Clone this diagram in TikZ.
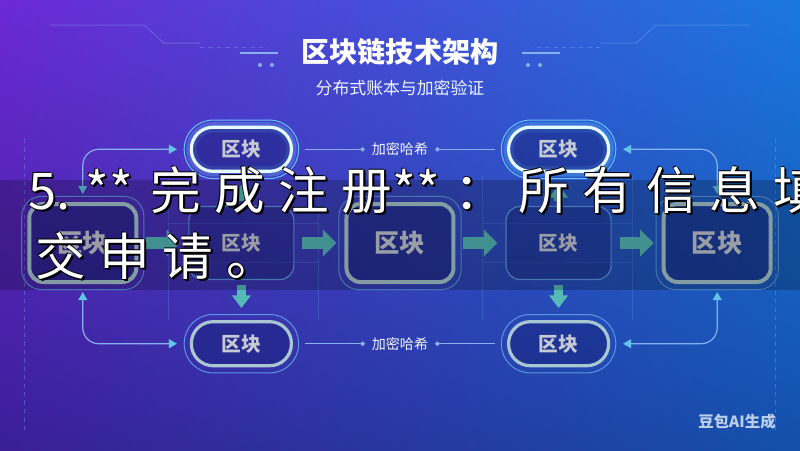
\documentclass[tikz,border=0pt]{standalone}
\usepackage{fontspec}
\usepackage{xcolor}
\usepackage{tikz}
\usetikzlibrary{arrows.meta,positioning,fit,calc,shadings}
\newfontfamily\cjk{Noto Sans CJK SC}
\newfontfamily\cjkwide[LetterSpace=26]{Noto Sans CJK SC}
\definecolor{cBgTL}{HTML}{6C29D4}
\definecolor{cBgTR}{HTML}{1A78DF}
\definecolor{cBgBL}{HTML}{3B1E98}
\definecolor{cBgBR}{HTML}{1350AB}
\definecolor{cNavy}{HTML}{18227A}
\definecolor{cGlow}{HTML}{E4FAFF}
\definecolor{cHalo}{HTML}{62C4FF}
\definecolor{cRing}{HTML}{5A96E2}
\definecolor{cEdge}{HTML}{A8C7D0}
\definecolor{cTeal}{HTML}{55B9B8}
\definecolor{cLink}{HTML}{86B0EE}
\definecolor{cTip}{HTML}{5FC6E6}
\definecolor{cText}{HTML}{C6CAD4}
\tikzset{
  blk/.style   = {rectangle, rounded corners=3.5mm, fill=cNavy, text=cText, text opacity=1, align=center},
  hblk/.style  = {blk, minimum width=26.75mm, minimum height=19.5mm, draw=cEdge, line width=1mm,
                  fill opacity=0.5, text opacity=1, font=\cjk\bfseries\fontsize{18}{18}\selectfont},
  pblk/.style  = {blk, minimum width=26.25mm, minimum height=18.25mm, draw=cRing, line width=0.3mm,
                  fill opacity=0.35, text opacity=1, font=\cjk\bfseries\fontsize{14}{14}\selectfont},
  pill/.style  = {rectangle, rounded corners=5.4mm, minimum width=25mm, minimum height=11mm, draw=#1,
                  line width=0.8mm, fill=cNavy, fill opacity=0.5, text=cText, text opacity=1,
                  font=\cjk\bfseries\fontsize{14}{14}\selectfont},
  pill/.default = cEdge,
  hot/.style   = {pill=cGlow, preaction={draw=cHalo, line width=2.6mm, draw opacity=0.3}},
  ring/.style  = {draw=#1, line width=0.25mm, inner sep=1.4mm},
  ring/.default = cRing,
  hash/.style  = {font=\cjk\fontsize{10}{10}\selectfont, text=white!88!cLink, inner sep=1.2mm},
  hl/.style    = {-{Circle[length=1.1mm]}, draw=cLink, line width=0.3mm, shorten <=3mm, shorten >=0.5mm},
  fat/.style   = {-{Triangle[length=3.4mm,width=6.5mm]}, draw=cTeal, line width=3mm,
                  shorten <=2mm, shorten >=2mm},
  vfat/.style  = {-{Triangle[length=3.2mm,width=4.6mm]}, draw=cTeal, line width=2.4mm,
                  shorten <=1.2mm, shorten >=3mm},
  link/.style  = {{Triangle[length=2mm,width=2.2mm,color=cTip]}-{Triangle[length=2mm,width=2.2mm,color=cTip]},
                  draw=cLink, line width=0.3mm, rounded corners=4mm, shorten <=2mm, shorten >=3.2mm},
  gridln/.style = {draw=cRing, line width=0.2mm, opacity=0.3},
  deco/.style  = {draw=cLink, line width=0.25mm, opacity=0.35},
  ttl/.style   = {font=\cjk\bfseries\fontsize{20}{20}\selectfont, text=white},
  sub/.style   = {font=\cjk\fontsize{12}{12}\selectfont, text=white!88!cLink},
  captxt/.style = {anchor=base west, inner sep=0pt, font=\cjkwide\fontsize{36}{36}\selectfont, text=white},
  capshade/.style = {captxt, text=black},
  wmark/.style = {font=\cjk\bfseries\fontsize{11}{11}\selectfont, text=white!72!cBgBR},
}
\begin{document}
\begin{tikzpicture}
  \useasboundingbox (-10,-5.175) rectangle (10,6.075);
  \clip (-10,-5.175) rectangle (10,6.075);
  \shade[upper left=cBgTL, upper right=cBgTR, lower left=cBgBL, lower right=cBgBR]
    (-10,-5.175) rectangle (10,6.075);

  % decoration
  \draw[deco, dashed] (-9.375,2.6) -- (-9.375,-4.7);
  \draw[deco, dashed] (9.375,2.6) -- (9.375,-4.7);
  \draw[deco] (-8.75,5.45) -- (-6.4,5.45) -- (-5.9,5.0) -- (-5.0,5.0);
  \draw[deco] (8.75,5.45) -- (6.4,5.45) -- (5.9,5.0) -- (5.0,5.0);
  \draw[deco, dashed] (-5.0,4.9) -- (-3.3,4.9);
  \draw[deco, dashed] (5.0,4.9) -- (3.3,4.9);
  \draw[cLink, line width=0.4mm] (-4.0,4.75) -- (-3.05,4.75) (4.0,4.75) -- (3.05,4.75);
  \fill[cLink] (-3.5,4.45) circle (0.05) (-3.2,4.45) circle (0.05)
               (3.5,4.45) circle (0.05) (3.2,4.45) circle (0.05);
  \foreach \x in {-3.925,3.925}
    \draw[gridln] ({\x-1.875},1.7) -- ({\x-1.875},-1.925) ({\x+1.875},1.7) -- ({\x+1.875},-1.925)
                ({\x-1.875},0.5) -- ({\x+1.875},0.5) ({\x-1.875},-0.475) -- ({\x+1.875},-0.475);

  \node[ttl] (title) at (0,4.775) {区块链技术架构};
  \node[sub] (subtitle) at (0,3.875) {分布式账本与加密验证};

  \node[hblk] (midC) at (0,0) {区块};
  \node[pblk, left=12.5mm of midC] (midB) {区块};
  \node[hblk, left=12.5mm of midB] (midA) {区块};
  \node[pblk, right=12.5mm of midC] (midD) {区块};
  \node[hblk, right=12.5mm of midD] (midE) {区块};

  \node[hot, above=8.25mm of midB] (topL) {区块};
  \node[hot, above=8.25mm of midD] (topR) {区块};
  \node[pill, below=10mm of midB] (botL) {区块};
  \node[pill, below=10mm of midD] (botR) {区块};

  \foreach \n in {topL,topR}
    \node[ring=cHalo, rounded corners=7.2mm, fit=(\n)] (\n-ring) {};
  \foreach \n in {botL,botR}
    \node[ring, rounded corners=7.2mm, fit=(\n)] (\n-ring) {};
  \foreach \n in {midA,midC,midE}
    \node[ring, rounded corners=5mm, fit=(\n)] (\n-ring) {};

  \node[hash] (hashT) at (topL -| midC) {加密哈希};
  \node[hash] (hashB) at (botL -| midC) {加密哈希};
  \draw[hl] (topL.east) -- (hashT.west);
  \draw[hl] (topR.west) -- (hashT.east);
  \draw[hl] (botL.east) -- (hashB.west);
  \draw[hl] (botR.west) -- (hashB.east);

  \draw[fat] (midA) -- (midB);
  \draw[fat] (midB) -- (midC);
  \draw[fat] (midC) -- (midD);
  \draw[fat] (midD) -- (midE);
  \draw[vfat] (midB) -- (botL);
  \draw[vfat] (midD) -- (botR);
  \draw[vfat] (midB) -- (topL);
  \draw[vfat] (midD) -- (topR);

  \draw[link] (midA.north) |- (topL.west);
  \draw[link] (midA.south) |- (botL.west);
  \draw[link] (midE.north) |- (topR.east);
  \draw[link] (midE.south) |- (botR.east);

  % caption band
  \fill[black, opacity=0.22] (-10,1.575) rectangle (10,-1.175);
  \foreach \dx/\dy [count=\i] in {0.05/-0.05, 0.03/0, 0/-0.03, -0.015/0.015} {
    \node[capshade] (capOneS\i) at ({-9.3+\dx},{0.85+\dy})
      {{\cjk 5. **\kern0.35em}完成注册{\cjk **\kern0.3em}：所有信息填};
    \node[capshade] (capTwoS\i) at ({-9.125+\dx},{-0.8+\dy}) {交申请。};
  }
  \node[captxt] (capOne) at (-9.3,0.85) {{\cjk 5. **\kern0.35em}完成注册{\cjk **\kern0.3em}：所有信息填};
  \node[captxt] (capTwo) at (-9.125,-0.8) {交申请。};

  \node[wmark] (watermark) at (8.425,-4.475) {豆包AI生成};
\end{tikzpicture}
\end{document}
